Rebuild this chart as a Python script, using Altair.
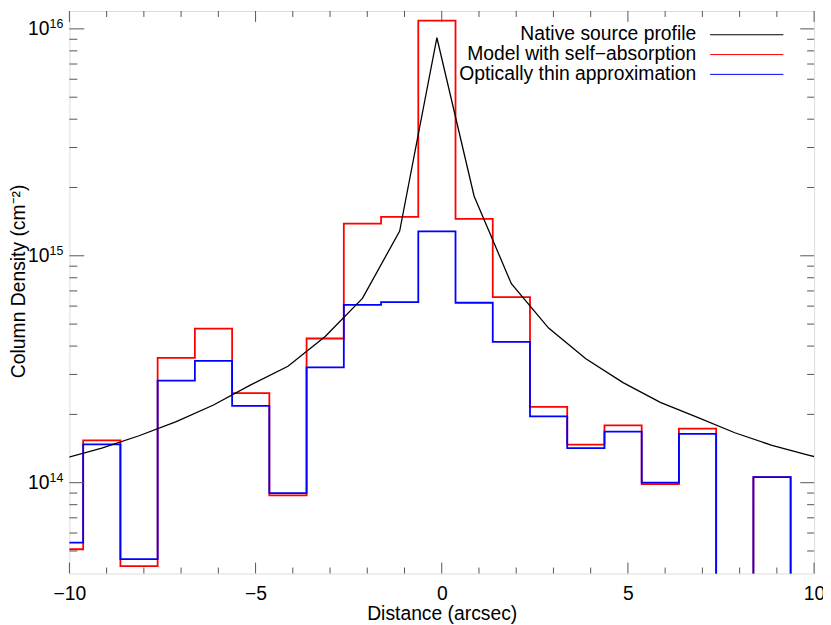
import altair as alt
import pandas as pd

# ---------------- data ----------------
bin_edges = [-10.63, -9.63, -8.63, -7.63, -6.63, -5.63, -4.63, -3.63, -2.63, -1.63,
             -0.63, 0.37, 1.37, 2.37, 3.37, 4.37, 5.37, 6.37, 7.37, 8.37, 9.37, 10.37]
model_selfabs = [5.09e13, 1.535e14, 4.29e13, 3.55e14, 4.78e14, 2.48e14, 8.79e13, 4.32e14,
                 1.387e15, 1.483e15, 1.087e16, 1.453e15, 6.58e14, 2.16e14, 1.47e14, 1.79e14,
                 9.86e13, 1.73e14, 1.0e13, 1.057e14, 1.0e13]
optically_thin = [5.44e13, 1.475e14, 4.60e13, 2.82e14, 3.44e14, 2.18e14, 9.0e13, 3.22e14,
                  6.08e14, 6.25e14, 1.28e15, 6.21e14, 4.17e14, 1.96e14, 1.42e14, 1.68e14,
                  1.0e14, 1.64e14, 1.0e13, 1.057e14, 1.0e13]
profile_x = [-10.13, -9.13, -8.13, -7.13, -6.13, -5.13, -4.13, -3.13, -2.13, -1.13, -0.13,
             0.87, 1.87, 2.87, 3.87, 4.87, 5.87, 6.87, 7.87, 8.87, 9.87, 10.87]
profile_y = [1.28e14, 1.42e14, 1.61e14, 1.86e14, 2.20e14, 2.70e14, 3.26e14, 4.41e14, 6.49e14,
             1.285e15, 9.14e15, 1.83e15, 7.53e14, 4.80e14, 3.52e14, 2.76e14, 2.26e14, 1.94e14,
             1.66e14, 1.46e14, 1.32e14, 1.20e14]
x_major_ticks = [-10, -5, 0, 5, 10]
x_minor_ticks = [-9, -8, -7, -6, -4, -3, -2, -1, 1, 2, 3, 4, 6, 7, 8, 9]
y_major_ticks = [1e14, 1e15, 1e16]
y_tick_exponents = ["14", "15", "16"]
y_minor_ticks = [5e13, 6e13, 7e13, 8e13, 9e13,
                 2e14, 3e14, 4e14, 5e14, 6e14, 7e14, 8e14, 9e14,
                 2e15, 3e15, 4e15, 5e15, 6e15, 7e15, 8e15, 9e15]
legend_labels = ["Native source profile", "Model with self\u2212absorption", "Optically thin approximation"]
legend_colors = ["#000000", "#ff0000", "#0000ff"]

# ---------------- layout ----------------
W, H = 752, 568
FONT = "Liberation Sans"
FS = 19.5
xs = alt.Scale(domain=[-10, 10], nice=False, zero=False)
ys = alt.Scale(type="log", domain=[3.98e13, 1.199e16], nice=False)

step_df = pd.DataFrame({
    "x": bin_edges,
    "red": model_selfabs + [model_selfabs[-1]],
    "blue": optically_thin + [optically_thin[-1]],
})
prof_df = pd.DataFrame({"x": profile_x, "y": profile_y})
xmaj_df = pd.DataFrame({"x": x_major_ticks})
xmin_df = pd.DataFrame({"x": x_minor_ticks})
ymaj_df = pd.DataFrame({"v": y_major_ticks, "exp": y_tick_exponents})
ymin_df = pd.DataFrame({"v": y_minor_ticks})

xaxis = alt.Axis(values=x_major_ticks, ticks=False, domain=False, grid=False,
                 labelFontSize=FS, labelFont=FONT, labelColor="black", labelPadding=11,
                 labelFlush=False, title="Distance (arcsec)", titleFont=FONT,
                 titleFontSize=FS, titleFontWeight="normal", titleColor="black",
                 titlePadding=2)

red = alt.Chart(step_df).mark_line(interpolate="step-after", color="#ff0000",
                                   strokeWidth=1.8, clip=True).encode(
    x=alt.X("x:Q", scale=xs, axis=xaxis),
    y=alt.Y("red:Q", scale=ys, axis=None))
blue = alt.Chart(step_df).mark_line(interpolate="step-after", color="#0000ff",
                                    strokeWidth=1.8, clip=True).encode(
    x=alt.X("x:Q", scale=xs),
    y=alt.Y("blue:Q", scale=ys, axis=None))
black = alt.Chart(prof_df).mark_line(color="#000000", strokeWidth=1.3, clip=True).encode(
    x=alt.X("x:Q", scale=xs),
    y=alt.Y("y:Q", scale=ys, axis=None))

TC = "#555555"
def xtick(df, y0, y1):
    return alt.Chart(df).mark_rule(color=TC, strokeWidth=1).encode(
        x=alt.X("x:Q", scale=xs), y=alt.value(y0), y2=alt.value(y1))
def ytick(df, x0, x1):
    return alt.Chart(df).mark_rule(color=TC, strokeWidth=1).encode(
        y=alt.Y("v:Q", scale=ys, axis=None), x=alt.value(x0), x2=alt.value(x1))

ticks = [
    xtick(xmaj_df, H, H - 11), xtick(xmin_df, H, H - 6),
    xtick(xmaj_df, 0, 11), xtick(xmin_df, 0, 6),
    ytick(ymaj_df, 0, 15), ytick(ymin_df, 0, 8),
    ytick(ymaj_df, W, W - 14), ytick(ymin_df, W, W - 7),
]

ylab_base = alt.Chart(ymaj_df).mark_text(align="right", baseline="middle", font=FONT,
                                         fontSize=FS, color="black").encode(
    y=alt.Y("v:Q", scale=ys, axis=None), x=alt.value(-20), text=alt.value("10"))
ylab_exp = alt.Chart(ymaj_df).mark_text(align="left", baseline="alphabetic", font=FONT,
                                        fontSize=12.5, color="black", dy=-1).encode(
    y=alt.Y("v:Q", scale=ys, axis=None), x=alt.value(-20), text="exp:N")

ytitle = alt.Chart(pd.DataFrame({"t": ["Column Density (cm\u207b\u00b2)"]})).mark_text(
    angle=270, align="center", baseline="alphabetic", font=FONT, fontSize=FS,
    color="black").encode(x=alt.value(-45), y=alt.value(273), text="t:N")

legend_layers = []
for i, (lab, col) in enumerate(zip(legend_labels, legend_colors)):
    ldf = pd.DataFrame({"label": [lab]})
    legend_layers.append(alt.Chart(ldf).mark_text(
        align="right", baseline="alphabetic", font=FONT, fontSize=FS, color="black").encode(
        x=alt.value(633), y=alt.value(29.5 + 20 * i), text="label:N"))
    legend_layers.append(alt.Chart(ldf).mark_rule(color=col, strokeWidth=1).encode(
        x=alt.value(647), x2=alt.value(721), y=alt.value(24 + 20 * i)))

chart = alt.layer(red, blue, black, *ticks, ylab_base, ylab_exp, ytitle,
                  *legend_layers).properties(
    width=W, height=H,
    autosize=alt.AutoSizeParams(type="none"),
    padding={"left": 62, "top": 0, "right": 9, "bottom": 49},
).configure_view(stroke="#444444", strokeWidth=1).configure(font=FONT)

chart.save("out.html", embed_options={"renderer": "svg", "actions": False})
